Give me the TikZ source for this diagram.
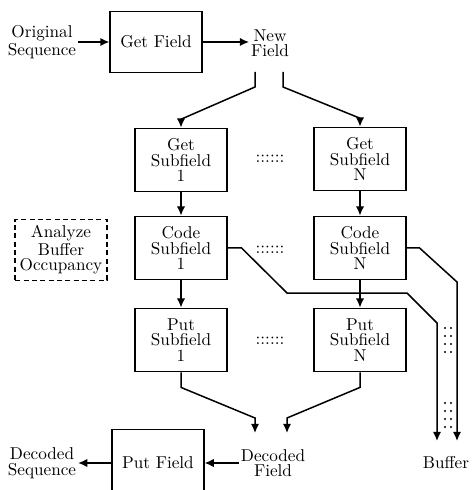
\documentclass[tikz,border=0pt]{standalone}
\usetikzlibrary{positioning, arrows.meta}
\tikzset{
  blk/.style={draw, line width=0.9pt, minimum width=55pt, minimum height=38pt, inner sep=1pt, align=center, font=\fontsize{10.3}{9.3}\selectfont},
  lbl/.style={align=center, inner sep=1pt, font=\fontsize{10.3}{9.3}\selectfont},
  arr/.style={-{Latex[length=5.5pt,width=5pt]}, line width=0.9pt},
}
\begin{document}
\begin{tikzpicture}[x=0.6pt, y=-0.6pt]
\useasboundingbox (0,0) rectangle (472,490);
% top row
\node (orig) [lbl] at (42,42) {Original\\Sequence};
\node (getf) [blk, minimum height=36.6pt] at (156,42) {Get Field};
\node (newf) [lbl] at (270,43) {New\\Field};
% subfield columns
\node (get1) [blk] at (181,160) {Get\\Subfield\\1};
\node (code1) [blk] at (181,248) {Code\\Subfield\\1};
\node (put1) [blk] at (181,340) {Put\\Subfield\\1};
\node (getn) [blk] at (360,159) {Get\\Subfield\\N};
\node (coden) [blk] at (360,248) {Code\\Subfield\\N};
\node (putn) [blk] at (360,340) {Put\\Subfield\\N};
\node (dots1) [lbl] at (270,159) {::::::};
\node (dots2) [lbl] at (270,250) {::::::};
\node (dots3) [lbl] at (270,341) {::::::};
\node (abo) [blk, densely dashed, minimum height=36.6pt] at (61,250) {Analyze\\Buffer\\Occupancy};
% bottom row
\node (putf) [blk, minimum height=40pt] at (158,463) {Put Field};
\node (decs) [lbl] at (42,463) {Decoded\\Sequence};
\node (decf) [lbl] at (273,463) {Decoded\\Field};
\node (buf) [lbl] at (446,463) {Buffer};
\coordinate (nfL) at (255,72);
\coordinate (nfR) at (283,72);
\coordinate (dfL) at (255,433);
\coordinate (dfR) at (287,433);
\coordinate (bufL) at (437,441);
\coordinate (bufR) at (457,441);

\draw[arr] (orig) -- (getf);
\draw[arr] (getf) -- (getf -| newf.west);
\draw[arr] (nfL) -- (255,87) -- ([yshift=5pt]get1.north) -- (get1.north);
\draw[arr] (nfR) -- (283,87) -- ([yshift=5pt]getn.north) -- (getn.north);
\draw[arr] (get1) -- (code1);
\draw[arr] (code1) -- (put1);
\draw[arr] (getn) -- (coden);
\draw[arr] (coden) -- (putn);
\draw[arr] (put1.south) -- ++(0,15) -- (255,418) -- (dfL);
\draw[arr] (putn.south) -- ++(0,15) -- (287,418) -- (dfR);
\draw[arr] (code1.east) -- ++(14,0) -- (287,293) -- (407,293) -- (437,323) -- (bufL);
\draw[arr] (coden.east) -- ++(13,0) -- (457,282) -- (bufR);
\draw[arr] (decf) -- (putf);
\draw[arr] (putf) -- (decs);
% dots between buffer lines
\foreach \y in {328,336,344,352,403,411,419,427}
  \foreach \x in {445,451}
    \fill (\x,\y) circle (0.7pt);
\end{tikzpicture}
\end{document}
